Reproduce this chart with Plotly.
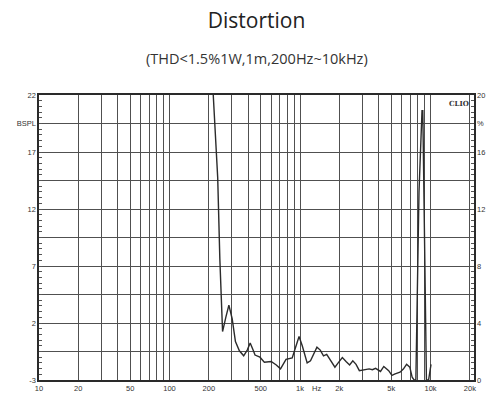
import math
import plotly.graph_objects as go

# ---- data ----
freq_hz = [212, 216.5, 224, 234, 243, 255, 270, 285, 302, 320, 343, 370, 394, 415,
           437, 452, 493, 533, 601, 658, 709, 781, 871, 933, 983, 1040, 1134, 1203,
           1348, 1429, 1513, 1601, 1698, 1851, 1960, 2110, 2261, 2398, 2538, 2687,
           2849, 3105, 3386, 3584, 3793, 4135, 4385, 4779, 5059, 5355, 5838, 6189,
           6554, 6937, 7231, 7484, 7720, 8157, 8604, 8725, 8987, 9300, 9660, 10086]
thd_pct = [21.5, 20.0, 17.6, 14.2, 8.5, 3.4, 4.4, 5.25, 4.3, 2.7, 2.05, 1.7, 2.1, 2.6,
           2.1, 1.75, 1.6, 1.25, 1.3, 1.05, 0.78, 1.45, 1.55, 2.45, 3.05, 2.4, 1.2, 1.35,
           2.3, 2.1, 1.7, 1.8, 1.45, 0.9, 1.2, 1.57, 1.28, 1.05, 1.35, 1.1,
           0.66, 0.7, 0.78, 0.72, 0.82, 0.6, 0.95, 0.66, 0.32, 0.43, 0.55, 0.77,
           1.1, 0.9, 0.2, 0.0, 0.0, 13.2, 18.9, 18.9, 10.0, 0.0, 0.0, 1.1]

x_grid_vals = [10, 20, 30, 40, 50, 60, 70, 80, 90,
               100, 200, 300, 400, 500, 600, 700, 800, 900,
               1000, 2000, 3000, 4000, 5000, 6000, 7000, 8000, 9000,
               10000, 20000]
x_labels = {10: "10", 20: "20", 50: "50", 100: "100", 200: "200", 500: "500",
            1000: "1k", 2000: "2k", 5000: "5k", 10000: "10k", 20000: "20k"}
x_tick_text = [x_labels.get(v, "") for v in x_grid_vals]

left_range = [-3, 22]
left_tick_vals = [-3, -0.5, 2, 4.5, 7, 9.5, 12, 14.5, 17, 19.5, 22]
left_tick_text = ["-3", "", "2", "", "7", "", "12", "", "17", "BSPL", "22"]
right_range = [0, 20]
right_tick_vals = [0, 2, 4, 6, 8, 10, 12, 14, 16, 18, 20]
right_tick_text = ["0", "", "4", "", "8", "", "12", "", "16", "%", "20"]

title_text = "Distortion"
subtitle_text = "(THD<1.5%1W,1m,200Hz~10kHz)"
brand_text = "CLIO"
unit_text = "Hz"
unit_pos_hz = 1340

GRID = "#505050"
FRAME = "#2a2a2a"
TICKFONT = dict(family="Liberation Sans, Arial", size=7.5, color="#333333")

# same curve expressed on the left (BSPL) scale, drawn invisibly so that axis is laid out
scale = (left_range[1] - left_range[0]) / (right_range[1] - right_range[0])
thd_left = [left_range[0] + v * scale for v in thd_pct]

fig = go.Figure()
fig.add_trace(go.Scatter(x=freq_hz, y=thd_pct, mode="lines", yaxis="y",
                         line=dict(color="#2b2b2b", width=1.4), showlegend=False,
                         hoverinfo="skip"))
fig.add_trace(go.Scatter(x=freq_hz, y=thd_left, mode="lines", yaxis="y2",
                         line=dict(color="rgba(0,0,0,0)", width=0), showlegend=False,
                         hoverinfo="skip"))

fig.update_layout(
    width=497, height=405,
    margin=dict(l=39, r=13, t=95, b=17),
    paper_bgcolor="white", plot_bgcolor="white",
    showlegend=False,
    title=dict(text=title_text, x=0.5, xref="paper", y=1 - 21 / 405, yref="container",
               xanchor="center", yanchor="middle",
               font=dict(family="Open Sans", size=21, color="#222222")),
    xaxis=dict(type="log", range=[1, 4.333], tickmode="array",
               tickvals=x_grid_vals, ticktext=x_tick_text, ticks="",
               showgrid=True, gridcolor=GRID, gridwidth=1,
               showline=True, mirror=True, linecolor=FRAME, linewidth=1.6,
               tickfont=TICKFONT, zeroline=False, fixedrange=True),
    yaxis=dict(range=right_range, side="right", tickmode="array",
               tickvals=right_tick_vals, ticktext=right_tick_text,
               ticks="inside", ticklen=3, tickcolor="#555555",
               showgrid=True, gridcolor=GRID, gridwidth=1,
               showline=True, linecolor=FRAME, linewidth=1.6,
               zeroline=False, tickfont=TICKFONT,
               minor=dict(tickmode="linear", tick0=0, dtick=0.4, ticks="inside",
                          ticklen=3, tickcolor="#555555", showgrid=False)),
    yaxis2=dict(range=left_range, side="left", overlaying="y", tickmode="array",
                tickvals=left_tick_vals, ticktext=left_tick_text,
                ticks="inside", ticklen=3, tickcolor="#555555",
                showgrid=False, showline=True, linecolor=FRAME, linewidth=1.6,
                zeroline=False, tickfont=TICKFONT,
                minor=dict(tickmode="linear", tick0=-3, dtick=0.5, ticks="inside",
                           ticklen=3, tickcolor="#555555", showgrid=False)),
    annotations=[
        dict(text=subtitle_text, x=0.5, xref="paper", y=(388 - 57) / 293, yref="paper",
             xanchor="center", yanchor="middle", showarrow=False,
             font=dict(family="Open Sans", size=14.5, color="#333333")),
        dict(text="<b>" + brand_text + "</b>", x=0.993, xref="paper", y=0.993, yref="paper",
             xanchor="right", yanchor="top", showarrow=False,
             font=dict(family="DejaVu Serif", size=7, color="#333333")),
        dict(text=unit_text, x=math.log10(unit_pos_hz), xref="x",
             y=0, yref="paper", xanchor="center", yanchor="top", yshift=-2,
             showarrow=False, font=TICKFONT),
    ],
)

fig.write_html("out.html", config={"displayModeBar": False, "staticPlot": True},
               post_script="document.body.style.margin='0';document.body.style.overflow='hidden';")
